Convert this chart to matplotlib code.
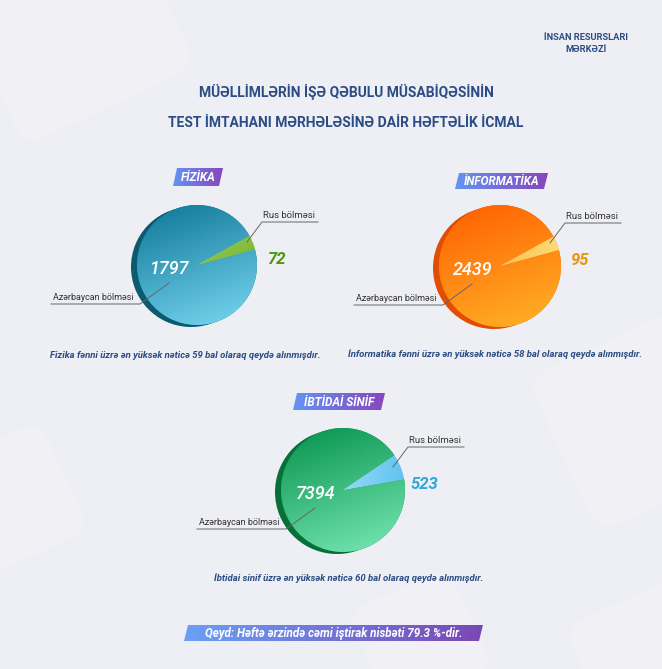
import numpy as np
import matplotlib.pyplot as plt
from matplotlib.patches import Wedge, Polygon, FancyBboxPatch
from matplotlib.colors import LinearSegmentedColormap
from matplotlib.transforms import Affine2D

W, H = 662, 669

subjects = ['FİZİKA', 'İNFORMATİKA', 'İBTİDAİ SİNİF']
az_counts = [1797, 2439, 7394]
ru_counts = [72, 95, 523]
top_scores = [59, 58, 60]
caption_subj = ['Fizika fənni', 'İnformatika fənni', 'İbtidai sinif']
part_labels = ['Azərbaycan bölməsi', 'Rus bölməsi']
participation = 79.3

title_lines = ['MÜƏLLİMLƏRİN İŞƏ QƏBULU MÜSABİQƏSİNİN',
               'TEST İMTAHANI MƏRHƏLƏSİNƏ DAİR HƏFTƏLİK İCMAL']
org_lines = ['İNSAN RESURSLARI', 'MƏRKƏZİ']

# block layout in pixels (y grows downwards)
centres = [(197, 265), (500, 266), (343, 490)]
radii = [60, 61, 62]
tabs = [(173, 219, 168, 186), (455, 544, 173, 189), (293, 381, 393, 410)]
caption_pos = [(185, 355), (495, 354), (349, 578)]

# (top, bottom, side) for the big slice, (start, end, label) for the small one
az_colors = [('#0f7696', '#78d8f2', '#0b5a70'),
             ('#ff5e00', '#ffb428', '#e04e05'),
             ('#05924c', '#7ae9b6', '#067038')]
ru_colors = [('#c9ec80', '#4c970c', '#4c970c'),
             ('#f3a526', '#ffe27c', '#e8950e'),
             ('#d8f2fc', '#55bfee', '#2fa6da')]

NAVY = '#2b4c84'
plt.rcParams['font.family'] = ['Roboto', 'DejaVu Sans']

fig = plt.figure(figsize=(W / 100, H / 100), dpi=100)
fig.patch.set_facecolor('#eeeff4')
ax = fig.add_axes([0, 0, 1, 1])
ax.set_facecolor('#eeeff4')


def gradient(clip, box, c0, c1, direc, z):
    x0, x1, y0, y1 = box
    X, Y = np.meshgrid(np.linspace(x0, x1, 150), np.linspace(y0, y1, 150))
    t = (X - x0) * direc[0] + (Y - y0) * direc[1]
    t = (t - t.min()) / (t.max() - t.min())
    cmap = LinearSegmentedColormap.from_list('g', [c0, c1])
    im = ax.imshow(t, cmap=cmap, extent=(x0, x1, y1, y0), origin='upper',
                   interpolation='bilinear', aspect='auto', zorder=z)
    im.set_clip_path(clip)


def tab(x0, x1, ytop, ybot, text, fs, c0='#6494f2', c1='#8747bd'):
    sk = 4
    poly = Polygon([(x0, ybot), (x1, ybot), (x1 + sk, ytop), (x0 + sk, ytop)],
                   closed=True, fill=False, lw=0)
    ax.add_patch(poly)
    gradient(poly, (x0, x1 + sk, ytop, ybot), c0, c1, (1, 0), 3)
    ax.text((x0 + x1 + sk) / 2, (ytop + ybot) / 2 + 0.5, text, color='white',
            fontsize=fs, fontweight='bold', fontstyle='italic',
            ha='center', va='center', zorder=6)


# faint background tiles
for cx, cy, s, ang in [(70, 20, 190, -25), (640, 420, 170, -25),
                       (650, 660, 130, -25), (10, 500, 120, -25),
                       (420, 640, 110, -25)]:
    tile = FancyBboxPatch((cx - s / 2, cy - s / 2), s, s,
                          boxstyle='round,pad=0,rounding_size=22',
                          fc='white', lw=0, alpha=0.18, zorder=0,
                          transform=Affine2D().rotate_deg_around(cx, cy, ang) + ax.transData)
    ax.add_patch(tile)

# header
ax.text(586, 37, org_lines[0], color=NAVY, fontsize=6.7, fontweight='bold',
        ha='center', va='center')
ax.text(586, 50, org_lines[1], color=NAVY, fontsize=6.7, fontweight='bold',
        ha='center', va='center')
for i, line in enumerate(title_lines):
    ax.text(346, 92 + i * 31, line, color=NAVY, fontsize=10, fontweight='bold',
            ha='center', va='center')

for i in range(3):
    cx, cy = centres[i]
    r = radii[i]
    vals = [ru_counts[i], az_counts[i]]
    frac = vals[0] / sum(vals)
    mid = -22  # data angle; y axis is inverted, so this points up-right
    wedges, _ = ax.pie(vals, center=(cx, cy), radius=r, frame=True,
                       startangle=mid - frac * 180, explode=[0.08, 0],
                       colors=[ru_colors[i][0], az_colors[i][0]],
                       wedgeprops=dict(lw=0, zorder=2))
    ru_w, az_w = wedges

    # darker rim on the left gives the slice some depth
    side = Wedge((cx - 6, cy + 2), r, az_w.theta1, az_w.theta2,
                 fc=az_colors[i][2], lw=0, zorder=1)
    ax.add_patch(side)

    gradient(az_w, (cx - r, cx + r, cy - r, cy + r),
             az_colors[i][0], az_colors[i][1], (0.35, 1), 2.5)
    ex, ey = ru_w.center
    direc = (0.6, 1) if i == 0 else (1, 0.15)
    gradient(ru_w, (ex - r, ex + r, ey - r, ey + r),
             ru_colors[i][0], ru_colors[i][1], direc, 2.5)

    # value labels
    ax.text(cx - 27, cy + 4, str(az_counts[i]), color='white', fontsize=13,
            fontstyle='italic', fontweight='medium', ha='center', va='center',
            zorder=6)
    ang = np.deg2rad(mid + 18)
    ax.text(cx + 1.32 * r * np.cos(ang), cy + 1.32 * r * np.sin(ang),
            str(ru_counts[i]), color=ru_colors[i][2], fontsize=12,
            fontstyle='italic', fontweight='bold', ha='center', va='center',
            zorder=6)

    # leader lines
    ax.plot([cx - 146, cx - 57, cx - 28], [cy + 39, cy + 39, cy + 18],
            color='#666666', lw=0.7, zorder=5)
    ax.text(cx - 144, cy + 37, part_labels[0], color='#333333', fontsize=6.5,
            ha='left', va='bottom', zorder=6)
    ax.plot([cx + 121, cx + 65, cx + 50], [cy - 43, cy - 43, cy - 23],
            color='#666666', lw=0.7, zorder=5)
    ax.text(cx + 66, cy - 45, part_labels[1], color='#333333', fontsize=6.8,
            ha='left', va='bottom', zorder=6)

    tab(*tabs[i], subjects[i], 8.5)
    ax.text(*caption_pos[i],
            f'{caption_subj[i]} üzrə ən yüksək nəticə {top_scores[i]} bal olaraq qeydə alınmışdır.',
            color=NAVY, fontsize=6.8, fontweight='bold', fontstyle='italic',
            ha='center', va='center', zorder=6)

tab(184, 479, 625, 641, f'Qeyd: Həftə ərzində cəmi iştirak nisbəti {participation} %-dir.',
    8.4, '#6aa0f6', '#7b48b6')

ax.set_xlim(0, W)
ax.set_ylim(H, 0)
ax.set_aspect('auto')
ax.set_axis_off()
fig.savefig('out.png', dpi=100, facecolor=fig.get_facecolor())
